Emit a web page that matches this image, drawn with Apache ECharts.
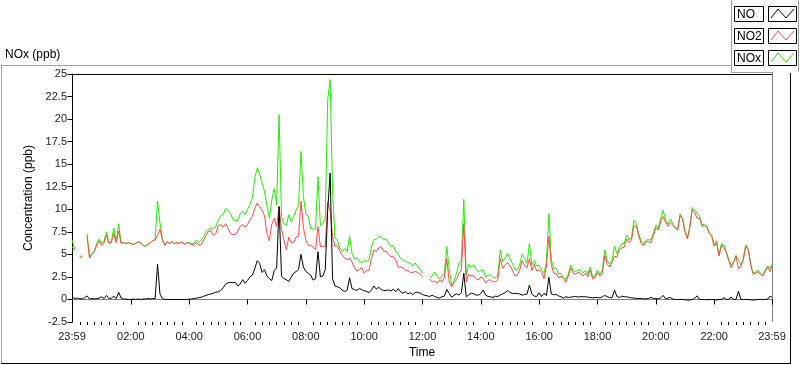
<!DOCTYPE html>
<html><head><meta charset="utf-8">
<script src="https://cdn.jsdelivr.net/npm/echarts@6/dist/echarts.min.js"></script>
<style>html,body{margin:0;padding:0;background:#fff}#c{width:800px;height:365px}</style>
</head><body><div id="c"></div>
<script>
// sampling times in minutes after midnight (-1 = 23:59 of previous day)
const times = [-1];
for (let t = 5; t <= 1435; t += 5) times.push(t);
times.push(1439);

const noValues = [
0.3,0.1,0.15,0.1,0.05,0.2,0.4,0.05,0.1,0.05,
0.1,0.15,0.3,0.1,0.45,0.1,0.15,0.35,0.1,0.8,
0.15,0.05,0.05,0,0,0.05,0,0.05,0,0.05,
0.05,0.1,0.05,0.1,0.1,3.9,0.6,0.1,0,0,
0,0,0,0,0,0,0,0,0.03,0.05,
0.1,0.15,0.2,0.25,0.35,0.45,0.55,0.6,0.7,0.8,
0.85,1.0,1.3,1.7,1.85,1.9,1.85,1.9,1.5,1.7,
2.2,1.8,2.1,2.5,2.7,3.4,4.3,4.0,3.0,3.3,
2.6,2.3,2.1,3.2,3.5,10.3,2.6,2.3,2.2,2.0,
2.5,2.9,3.1,3.3,5.0,3.6,3.1,
2.9,2.7,2.15,2.3,5.3,2.5,2.6,3.3,9.9,14.0,
2.3,1.5,1.4,1.3,1.0,0.9,1.0,2.4,1.2,1.1,
1.0,1.2,1.1,0.95,0.9,0.75,1.05,1.5,1.15,1.35,
1.1,1.0,1.0,1.05,0.95,1.15,0.85,1.2,0.85,0.7,
0.85,0.63,0.75,0.52,0.78,0.8,0.7,0.55,0.45,0.4,
0.33,0.48,0.33,0.22,0.15,0.3,0.37,1.1,0.67,0.26,
0.45,0.63,0.48,0.75,2.9,0.3,0.5,0.7,0.63,0.5,
0.48,0.67,1.04,0.48,0.33,0.3,0.22,0.37,0.33,0.48,
0.63,0.75,1.0,0.78,0.67,0.67,0.67,0.6,0.48,0.55,
0.6,1.6,0.6,0.37,0.33,0.75,
0.33,0.67,0.45,2.45,0.6,0.52,0.55,0.4,0.3,0.15,
0.3,0.22,0.26,0.3,0.33,0.26,0.33,0.3,0.3,0.26,
0.22,0.18,0.22,0.22,0.18,0.3,0.45,0.3,0.22,0.18,
1.04,0.33,0.22,0.37,0.3,0.3,0.22,0.18,0.15,0.11,
0.11,0.11,0.07,0.07,0.11,0.22,0.11,0.11,0.07,0.18,
0.45,0.07,0.15,0.22,0.04,0,0,0,0,-0.04,
-0.07,-0.07,0,0.15,0.4,0,0,0,-0.04,0,
0,0,-0.07,0,0,0.22,0,0.04,0.26,0,
0,0.9,0,0,0,0,-0.04,-0.07,-0.04,0,
0,0,0,0.04,0.37,0.22
];

const no2Values = [
5.8,5.5,null,4.7,4.7,null,7.0,4.6,5.0,5.3,
6.0,6.5,6.0,6.3,7.1,6.2,6.3,7.3,6.3,7.6,
6.2,6.3,6.2,6.3,6.2,6.1,6.2,6.4,6.3,6.0,
5.9,6.1,6.3,6.5,6.6,7.1,7.8,6.6,6.0,6.4,
6.2,6.4,6.2,6.3,6.2,6.4,6.1,6.3,6.2,6.1,
6.0,6.3,6.0,6.1,6.6,7.1,7.6,7.6,7.1,7.3,
8.2,8.3,8.0,8.4,7.9,7.3,7.2,7.2,7.6,8.1,
8.3,8.0,8.3,8.8,9.2,10.1,10.7,10.3,9.9,9.3,
7.3,6.5,8.3,9.0,8.1,10.3,7.8,6.6,5.5,6.9,
6.3,6.3,6.9,7.0,10.9,8.0,6.6,
6.0,6.0,5.8,5.5,8.1,5.85,5.9,5.85,10.8,9.9,
7.0,5.9,5.95,5.3,4.9,4.6,4.4,4.6,4.15,3.55,
3.15,3.35,3.55,2.9,3.2,3.25,4.55,5.5,5.3,5.7,
5.85,5.35,5.35,5.0,4.75,4.75,4.35,3.6,3.6,3.5,
3.25,3.2,3.0,3.0,3.1,3.0,2.8,2.5,null,null,
2.25,1.95,2.05,1.8,2.15,1.95,2.45,4.5,1.95,1.4,
1.85,2.2,2.85,3.3,8.4,1.95,2.8,2.6,2.65,2.3,
2.15,2.5,2.35,1.8,2.15,2.15,1.95,1.95,2.2,4.55,
3.45,3.8,4.1,3.7,3.25,2.6,2.7,3.25,4.3,3.8,
3.5,4.55,3.2,3.9,3.15,3.3,
3.0,2.3,3.7,7.0,3.8,2.9,2.9,2.4,2.6,2.3,
1.9,2.6,3.5,2.9,2.8,3.0,2.9,2.6,2.9,2.5,
3.3,2.3,2.4,3.0,2.6,2.9,4.9,3.9,3.6,4.1,
4.8,4.7,5.5,5.7,5.8,6.7,6.3,6.6,8.2,8.1,
7.0,6.2,6.0,6.4,6.4,6.3,7.1,7.9,7.7,8.6,
9.2,8.6,8.1,8.5,8.2,7.9,7.7,9.3,8.9,7.5,
6.7,8.0,10.0,9.6,9.0,9.0,8.1,8.2,8.0,7.3,
7.0,5.9,6.3,4.8,6.0,5.7,5.2,4.3,3.5,4.1,
4.8,3.4,3.7,4.4,5.9,5.5,3.9,2.8,2.9,3.1,
2.8,2.6,3.1,3.6,3.1,3.7
];

const noxValues = [
6.6,5.6,null,4.8,4.8,null,7.3,4.7,5.1,5.4,
6.2,6.7,6.2,6.5,7.5,6.3,6.5,7.9,6.4,8.4,
6.3,6.3,6.2,6.3,6.2,6.1,6.2,6.4,6.3,6.0,
5.9,6.1,6.3,6.5,6.7,10.9,8.5,6.7,6.0,6.4,
6.2,6.4,6.2,6.3,6.2,6.4,6.1,6.3,6.3,6.2,
6.2,6.6,6.3,6.6,7.0,7.5,7.8,7.9,7.9,8.1,
8.8,9.3,9.4,10.1,9.9,9.5,8.9,8.7,8.8,9.5,
9.8,9.4,10.0,10.5,11.3,13.4,14.6,13.9,12.9,12.0,
10.4,9.0,11.0,12.3,10.5,20.5,9.2,8.4,8.2,9.4,
8.6,9.2,9.9,10.4,16.4,11.4,9.5,
9.2,7.9,7.8,7.8,13.6,8.2,8.4,9.0,22.1,24.4,
12.0,6.8,6.6,5.7,5.3,5.65,5.3,7.0,5.1,4.5,
4.6,4.25,4.05,4.35,4.2,4.35,5.85,6.6,6.7,6.95,
6.95,6.65,6.7,6.3,5.85,6.0,5.3,5.0,4.55,4.35,
4.25,4.1,4.0,3.7,4.05,3.65,3.35,2.9,null,null,
2.35,2.6,3.05,2.6,2.25,2.6,2.9,5.85,3.35,1.65,
2.05,2.9,4.05,4.35,11.1,2.7,3.9,3.55,3.85,3.35,
3.05,3.25,3.25,2.45,2.7,2.7,2.45,2.35,2.7,5.5,
4.2,4.55,5.1,4.55,4.0,3.35,3.25,3.8,5.05,4.55,
4.0,6.2,3.8,4.3,3.7,3.8,
3.25,2.9,4.2,9.5,4.4,3.45,3.45,2.8,2.9,2.45,
2.2,2.8,3.8,3.25,3.1,3.25,3.3,2.95,3.2,2.8,
3.6,2.5,2.6,3.25,2.8,3.25,5.5,4.3,3.9,4.35,
5.9,5.1,5.8,6.15,6.2,7.15,6.6,6.9,8.8,8.35,
7.25,6.4,6.15,6.6,6.6,6.65,7.35,8.25,7.9,9.0,
9.9,8.8,8.35,8.9,8.35,8.0,7.8,9.5,9.0,7.6,
6.8,8.1,10.2,9.9,9.55,9.2,8.25,8.35,8.15,7.4,
7.15,6.05,6.5,4.9,6.2,6.05,5.3,4.45,3.8,4.2,
4.9,4.35,3.8,4.55,6.05,5.65,4.0,2.9,3.05,3.25,
2.95,2.7,3.25,3.7,3.45,3.9
];

const majorTicks = [-1,120,240,360,480,600,720,840,960,1080,1200,1320,1439];
const tickLabels = ['23:59','02:00','04:00','06:00','08:00','10:00','12:00','14:00','16:00','18:00','20:00','22:00','23:59'];
const minorTicks = [];
for (let t = 15; t < 1439; t += 15) if (t % 120 !== 0) minorTicks.push(t);

const seriesNames = ['NO','NO2','NOx'];
const seriesColors = ['#000000','#ff4848','#22ee00'];

const FONT = "'Liberation Sans', Arial, sans-serif";
const pairs = vals => times.map((t, i) => [t, vals[i] == null ? '-' : vals[i]]);

const chart = echarts.init(document.getElementById('c'), null, {renderer:'canvas'});

const legendGraphics = [];
[6, 28, 50].forEach((y0, i) => {
  legendGraphics.push({type:'rect', shape:{x:734.5, y:y0+0.5, width:29, height:15}, style:{fill:'#fff', stroke:'#000', lineWidth:1}, silent:true});
  legendGraphics.push({type:'text', x:737, y:y0+8.5, style:{text:seriesNames[i], fill:'#000', font:"12px "+FONT, textVerticalAlign:'middle'}, silent:true});
  legendGraphics.push({type:'rect', shape:{x:768.5, y:y0+0.5, width:28, height:15}, style:{fill:'#fff', stroke:'#000', lineWidth:1}, silent:true});
  legendGraphics.push({type:'polyline', shape:{points:[[771,y0+12],[778,y0+3],[786,y0+12],[794,y0+3]]}, style:{stroke:seriesColors[i], lineWidth:1, fill:null}, silent:true});
});

chart.setOption({
  animation:false,
  backgroundColor:'#fff',
  grid:{left:72, right:28, top:74, bottom:43, containLabel:false},
  xAxis:[{
    type:'value', min:-1, max:1439,
    name:'Time', nameLocation:'middle', nameGap:25,
    nameTextStyle:{color:'#000', fontSize:12, fontFamily:FONT},
    axisLine:{show:true, lineStyle:{color:'#808080', width:1}},
    axisTick:{show:true, customValues:majorTicks, length:5, lineStyle:{color:'#000'}},
    axisLabel:{customValues:majorTicks, margin:9, color:'#1a1a1a', fontSize:11, fontFamily:FONT,
      formatter:v => tickLabels[majorTicks.indexOf(v)] || ''},
    splitLine:{show:false}
  },{
    type:'value', min:-1, max:1439, position:'bottom',
    axisLine:{show:false},
    axisTick:{show:true, customValues:minorTicks, length:3, lineStyle:{color:'#000'}},
    axisLabel:{show:false},
    splitLine:{show:false}
  }],
  yAxis:{
    type:'value', min:-2.5, max:25, interval:2.5,
    name:'Concentration (ppb)', nameLocation:'middle', nameGap:34, nameRotate:90,
    nameTextStyle:{color:'#000', fontSize:12, fontFamily:FONT},
    axisLine:{show:true, lineStyle:{color:'#000', width:1}},
    axisTick:{show:true, length:5, lineStyle:{color:'#000'}},
    axisLabel:{margin:5, color:'#1a1a1a', fontSize:11, fontFamily:FONT},
    splitLine:{show:false}
  },
  series:[
    {name:'NOx', type:'line', data:pairs(noxValues), symbol:'none', showSymbol:false, connectNulls:false, lineStyle:{width:1, color:seriesColors[2]}, itemStyle:{color:seriesColors[2]}, z:2},
    {name:'NO2', type:'line', data:pairs(no2Values), symbol:'none', showSymbol:false, connectNulls:false, lineStyle:{width:1, color:seriesColors[1]}, itemStyle:{color:seriesColors[1]}, z:3},
    {name:'NO', type:'line', data:pairs(noValues), symbol:'none', showSymbol:false, connectNulls:false, lineStyle:{width:1, color:seriesColors[0]}, itemStyle:{color:seriesColors[0]}, z:4}
  ],
  graphic:[
    {type:'text', x:5, y:55, style:{text:'NOx (ppb)', fill:'#000', font:"12px "+FONT, textVerticalAlign:'middle'}, silent:true},
    // outer frame
    {type:'line', shape:{x1:1, y1:65.5, x2:731, y2:65.5}, style:{stroke:'#a0a0a0', lineWidth:1}, silent:true},
    {type:'line', shape:{x1:1.5, y1:65, x2:1.5, y2:363}, style:{stroke:'#a0a0a0', lineWidth:1}, silent:true},
    {type:'line', shape:{x1:1, y1:363.5, x2:791, y2:363.5}, style:{stroke:'#000', lineWidth:1}, silent:true},
    {type:'line', shape:{x1:790.5, y1:73, x2:790.5, y2:364}, style:{stroke:'#000', lineWidth:1}, silent:true},
    // legend frame
    {type:'line', shape:{x1:731.5, y1:0, x2:731.5, y2:72}, style:{stroke:'#a0a0a0', lineWidth:1}, silent:true},
    {type:'line', shape:{x1:798.5, y1:0, x2:798.5, y2:72}, style:{stroke:'#a0a0a0', lineWidth:1}, silent:true},
    {type:'line', shape:{x1:731, y1:72.5, x2:773, y2:72.5}, style:{stroke:'#a0a0a0', lineWidth:1}, silent:true},
    // plot frame top (dark) and right (light)
    {type:'line', shape:{x1:72, y1:74.5, x2:772, y2:74.5}, style:{stroke:'#000', lineWidth:1}, silent:true},
    {type:'line', shape:{x1:772.5, y1:72, x2:772.5, y2:322}, style:{stroke:'#808080', lineWidth:1}, silent:true}
  ].concat(legendGraphics)
});
</script></body></html>
